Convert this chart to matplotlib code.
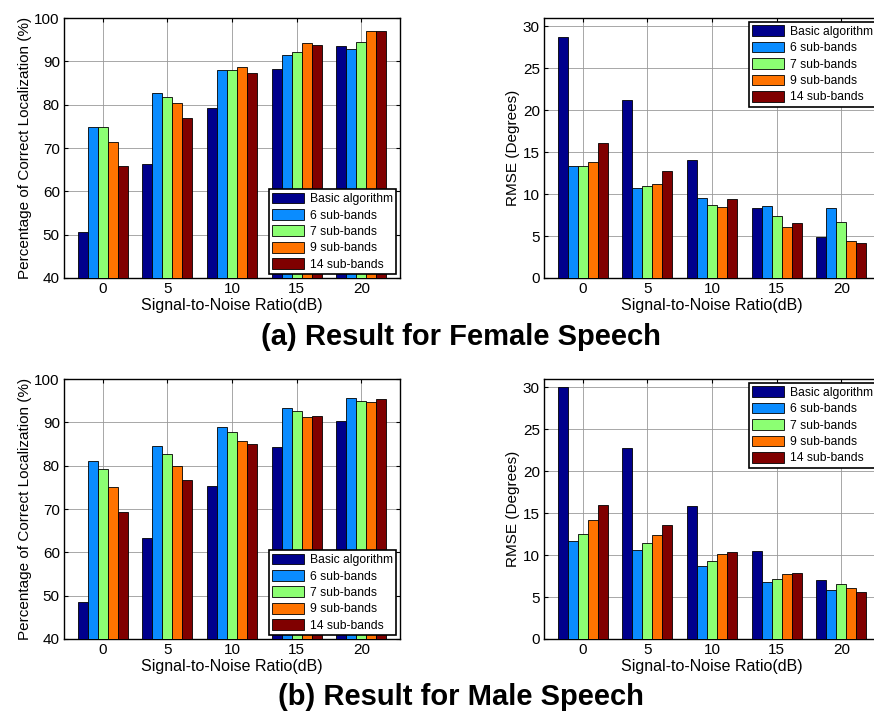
import numpy as np
import matplotlib
matplotlib.use('Agg')
import matplotlib.pyplot as plt

plt.rcParams['font.family'] = ['Liberation Sans', 'DejaVu Sans']

snr = [0, 5, 10, 15, 20]
series = ['Basic algorithm', '6 sub-bands', '7 sub-bands', '9 sub-bands', '14 sub-bands']
colors = ['#00008c', '#0a8cff', '#8cff73', '#ff7300', '#800000']

# female speech, % correct localization
fem_loc_basic = [50.5, 66.2, 79.3, 88.2, 93.5]
fem_loc_6 = [74.9, 82.8, 88.1, 91.5, 92.9]
fem_loc_7 = [74.8, 81.8, 88.1, 92.2, 94.5]
fem_loc_9 = [71.5, 80.4, 88.6, 94.2, 97.0]
fem_loc_14 = [65.8, 76.9, 87.2, 93.8, 97.0]

# female speech, RMSE
fem_rmse_basic = [28.7, 21.2, 14.1, 8.3, 4.9]
fem_rmse_6 = [13.4, 10.7, 9.5, 8.6, 8.4]
fem_rmse_7 = [13.3, 11.0, 8.7, 7.4, 6.7]
fem_rmse_9 = [13.8, 11.2, 8.5, 6.1, 4.4]
fem_rmse_14 = [16.1, 12.8, 9.4, 6.5, 4.2]

# male speech, % correct localization
male_loc_basic = [48.6, 63.2, 75.2, 84.2, 90.3]
male_loc_6 = [81.1, 84.6, 88.9, 93.2, 95.7]
male_loc_7 = [79.3, 82.8, 87.8, 92.7, 95.0]
male_loc_9 = [75.1, 79.9, 85.8, 91.2, 94.8]
male_loc_14 = [69.4, 76.7, 84.9, 91.5, 95.4]

# male speech, RMSE
male_rmse_basic = [30.0, 22.8, 15.9, 10.5, 7.0]
male_rmse_6 = [11.7, 10.6, 8.7, 6.8, 5.9]
male_rmse_7 = [12.5, 11.5, 9.3, 7.2, 6.5]
male_rmse_9 = [14.2, 12.4, 10.1, 7.7, 6.1]
male_rmse_14 = [16.0, 13.6, 10.4, 7.9, 5.6]


def grouped_bars(ax, data, ylim, yticks, ylabel, legend_loc):
    x = np.arange(len(snr))
    w = 0.155
    for i, vals in enumerate(data):
        ax.bar(x + (i - 2) * w, vals, w, bottom=0, color=colors[i],
               edgecolor='black', linewidth=0.6, label=series[i], zorder=3)
    ax.set_xlim(-0.6, 4.6)
    ax.set_ylim(*ylim)
    ax.set_yticks(yticks)
    ax.set_xticks(x)
    ax.set_xticklabels([str(s) for s in snr])
    ax.grid(True, color='0.6', linewidth=0.6, linestyle='-', zorder=0)
    ax.set_axisbelow(True)
    ax.tick_params(direction='in', top=True, right=True, labelsize=11, length=3, pad=3)
    ax.set_xlabel('Signal-to-Noise Ratio(dB)', fontsize=11.5, labelpad=1)
    ax.set_ylabel(ylabel, fontsize=11, labelpad=2)
    for sp in ax.spines.values():
        sp.set_linewidth(1.0)
    leg = ax.legend(loc=legend_loc, fontsize=8.7, frameon=True, fancybox=False,
                    edgecolor='black', framealpha=1, handlelength=2.6,
                    handleheight=1.0, labelspacing=0.32, borderpad=0.3,
                    handletextpad=0.5, borderaxespad=0.3)
    leg.get_frame().set_linewidth(1.2)


fig = plt.figure(figsize=(8.74, 7.15), dpi=100)
w_ax, h_ax = 0.3845, 0.3636

ax1 = fig.add_axes([0.0732, 0.6112, w_ax, h_ax])
grouped_bars(ax1, [fem_loc_basic, fem_loc_6, fem_loc_7, fem_loc_9, fem_loc_14],
             (40, 100), np.arange(40, 101, 10), 'Percentage of Correct Localization (%)', 'lower right')

ax2 = fig.add_axes([0.6224, 0.6112, w_ax, h_ax])
grouped_bars(ax2, [fem_rmse_basic, fem_rmse_6, fem_rmse_7, fem_rmse_9, fem_rmse_14],
             (0, 31), np.arange(0, 31, 5), 'RMSE (Degrees)', 'upper right')

ax3 = fig.add_axes([0.0732, 0.1063, w_ax, h_ax])
grouped_bars(ax3, [male_loc_basic, male_loc_6, male_loc_7, male_loc_9, male_loc_14],
             (40, 100), np.arange(40, 101, 10), 'Percentage of Correct Localization (%)', 'lower right')

ax4 = fig.add_axes([0.6224, 0.1063, w_ax, h_ax])
grouped_bars(ax4, [male_rmse_basic, male_rmse_6, male_rmse_7, male_rmse_9, male_rmse_14],
             (0, 31), np.arange(0, 31, 5), 'RMSE (Degrees)', 'upper right')

fig.text(0.527, 1 - 337 / 715, '(a) Result for Female Speech', ha='center', va='center',
         fontsize=21, fontweight='bold')
fig.text(0.527, 1 - 697 / 715, '(b) Result for Male Speech', ha='center', va='center',
         fontsize=21, fontweight='bold')

fig.savefig('out.png', dpi=100)
